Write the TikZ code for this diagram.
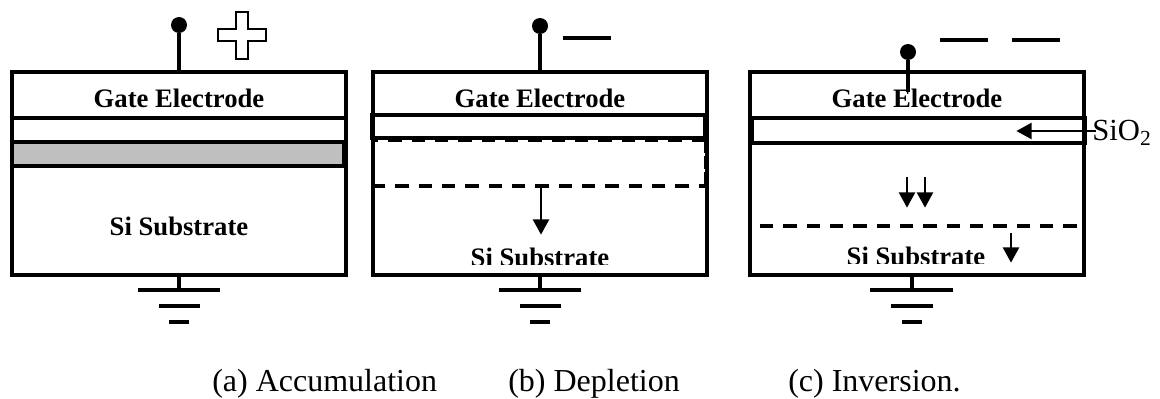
\documentclass[tikz,border=0pt]{standalone}
\usepackage{fontspec}
\setmainfont{Liberation Serif}
\usetikzlibrary{arrows.meta}
\tikzset{
  px/.style 2 args={minimum width=#1*0.75pt,minimum height=#2*0.75pt},
  box/.style={draw=black,line width=2.3pt,inner sep=0pt,outer sep=0pt},
  layer/.style={draw=black,line width=2.5pt,inner sep=0pt,outer sep=0pt},
  wire/.style={draw=black,line width=2.3pt},
  thin wire/.style={draw=black,line width=2pt},
  downarrow/.style={draw=black,line width=2pt,-{Triangle[width=12pt,length=11.5pt]},shorten >=-0.5pt},
  terminal/.style={circle,fill=black,inner sep=0pt,outer sep=0pt,minimum size=12pt},
  label/.style={font=\bfseries\fontsize{20}{22}\selectfont,inner sep=0pt,anchor=base},
  caption/.style={font=\fontsize{24}{26}\selectfont,inner sep=0pt,anchor=base west},
  dashline/.style={draw=black,line width=2.5pt,dash pattern=on 10pt off 7.5pt}
}
\begin{document}
\begin{tikzpicture}[x=0.75pt,y=-0.75pt]
\useasboundingbox (0,0) rectangle (1160,399);
\fill[white] (0,0) rectangle (1160,399);

% ---- panel a
\node[box,px={334}{203}] (boxa) at (179,173.5) {};
\draw[wire] (12,118) -- (346,118);
\node[layer,px={332}{24},fill=black!25] (gray) at (178,154) {};
\node[label] (gatea) at (179,108) {Gate Electrode};
\node[label] (suba) at (179,235) {Si Substrate};
\node[terminal] (dota) at (179,25) {};
\draw[wire] (dota) -- (boxa.north);
\draw[thin wire,fill=white] (236,12) -- (248,12) -- (248,29) -- (266,29) -- (266,41) -- (248,41)
  -- (248,59) -- (236,59) -- (236,41) -- (218,41) -- (218,29) -- (236,29) -- cycle;
\coordinate (ga) at (179,290);
\draw[wire] (boxa.south) -- (ga);
\draw[wire] (138,290) -- (ga) -- (220,290);
\draw[wire] (159,306) -- (200,306);
\draw[wire] (169,322) -- (189,322);

% ---- panel b
\node[box,px={334}{203}] (boxb) at (540,173.5) {};
\node[layer,px={333}{23}] (oxb) at (538.5,126.5) {};
\node[label] (gateb) at (540,108) {Gate Electrode};
\begin{scope}
  \clip (400,240) rectangle (680,264.5);
  \node[label] (subb) at (540,266) {Si Substrate};
\end{scope}
\draw[dashline,line width=1.6pt] (705,141) -- (372,141);
\draw[dashline] (372,186) -- (705,186);
\draw[draw=black,line width=2pt,dash pattern=on 10pt off 2pt] (372,140) -- (372,186);
\draw[draw=black,line width=2pt,dash pattern=on 10pt off 2pt] (705,140) -- (705,186);
\node[terminal] (dotb) at (540,26) {};
\draw[wire] (dotb) -- (boxb.north);
\coordinate (ab) at (541,187);
\coordinate (ae) at (541,234);
\draw[downarrow] (ab) -- (ae);
\draw[wire] (563,38) -- (611,38);
\coordinate (gb) at (540,290);
\draw[wire] (boxb.south) -- (gb);
\draw[wire] (499,290) -- (gb) -- (581,290);
\draw[wire] (520,306) -- (561,306);
\draw[wire] (530,322) -- (550,322);

% ---- panel c
\node[box,px={334}{203}] (boxc) at (917,173.5) {};
\node[layer,px={333}{25}] (oxc) at (918.5,130.5) {};
\node[label] (gatec) at (917,108) {Gate Electrode};
\begin{scope}
  \clip (800,240) rectangle (1040,263.5);
  \node[label] (subc) at (916,265) {Si Substrate};
\end{scope}
\node[terminal] (dotc) at (908,52) {};
\coordinate (stemc) at (908,92);
\draw[wire] (dotc) -- (stemc);
\draw[wire] (940,40) -- (988,40);
\draw[wire] (1012,40) -- (1060,40);
\node[font=\fontsize{23}{26}\selectfont,inner sep=0pt,anchor=base west] (sio) at (1092,141) {SiO\textsubscript{2}};
\coordinate (sa) at (1017,131);
\draw[downarrow] (sio.west |- sa) ++(4,0) -- (sa);
\draw[downarrow] (907,177) -- (907,207);
\draw[downarrow] (925,177) -- (925,207);
\draw[dashline] (760,226) -- (1077,226);
\draw[downarrow] (1011,233) -- (1011,262);
\coordinate (gc) at (912,290);
\draw[wire] (boxc.south -| gc) -- (gc);
\draw[wire] (870,290) -- (gc) -- (953,290);
\draw[wire] (891,306) -- (933,306);
\draw[wire] (902,322) -- (922,322);

% ---- captions
\node[caption] (capa) at (212,391) {(a) Accumulation};
\node[caption] (capb) at (508,391) {(b) Depletion};
\node[caption] (capc) at (788,391) {(c) Inversion.};
\end{tikzpicture}
\end{document}
